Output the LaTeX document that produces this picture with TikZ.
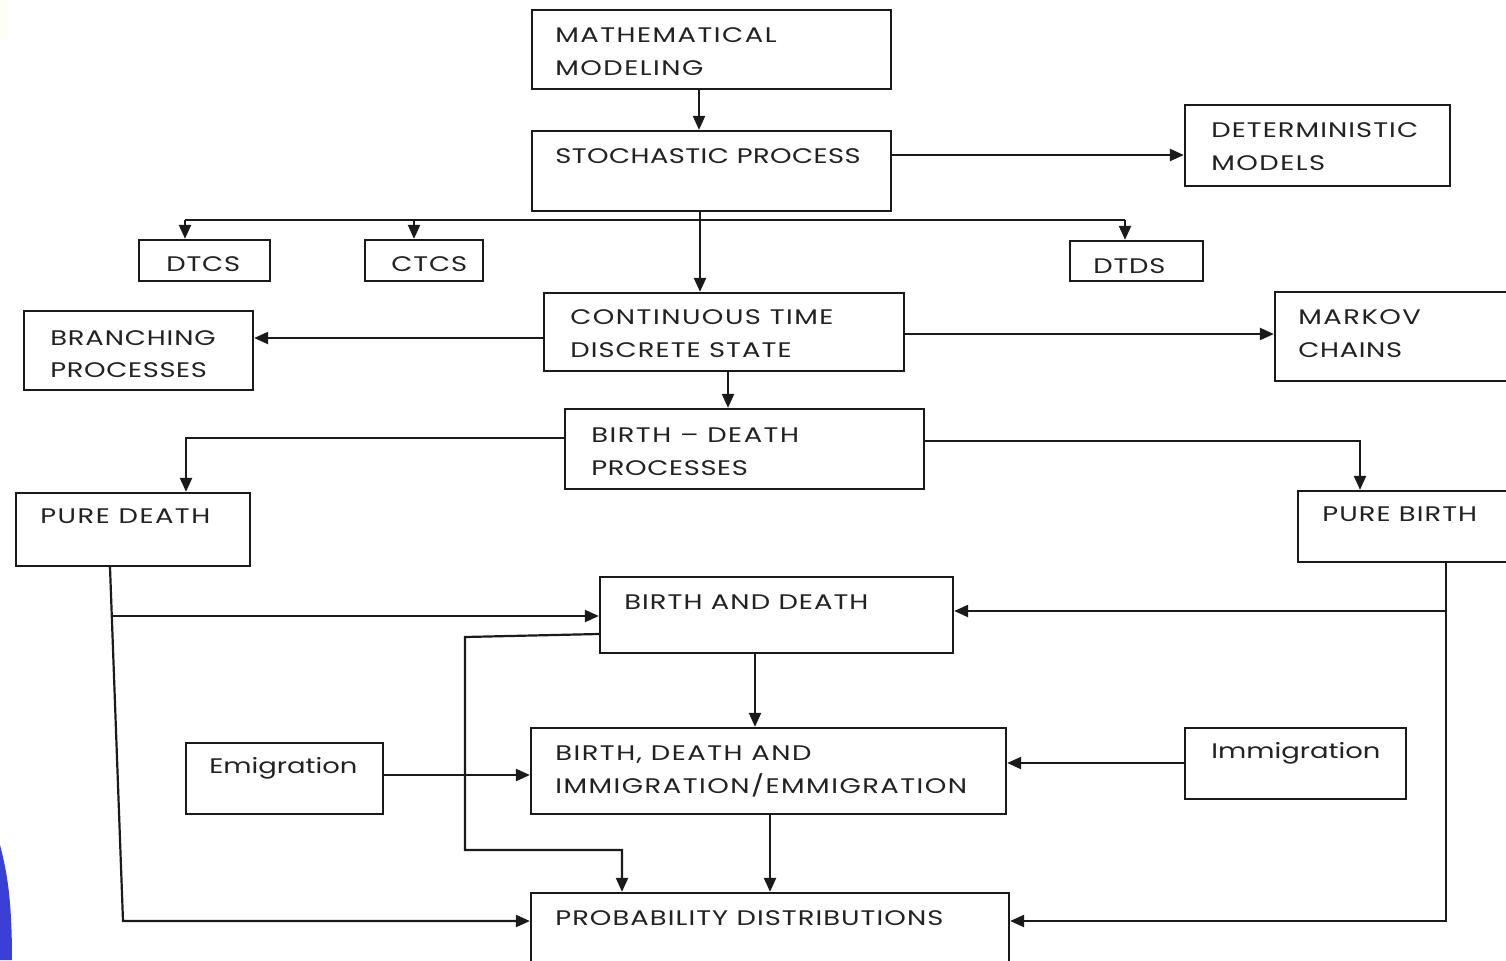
\documentclass[tikz,border=0pt]{standalone}
\usepackage{fontspec}
\setmainfont{Poppins}[FakeStretch=1.3, LetterSpace=7]
\usetikzlibrary{arrows.meta,fit}
\definecolor{linec}{HTML}{1A1A1A}
\definecolor{textc}{HTML}{222222}
\definecolor{blueedge}{HTML}{3A3FD6}
\newcommand\sx[1]{#1}
\newcommand\tight[2]{{\addfontfeatures{LetterSpace=#1}#2}}
\begin{document}
\begin{tikzpicture}[x=0.02cm,y=-0.02cm,
  box/.style={draw=linec, line width=1.3pt, inner sep=0pt, fill=none},
  txt/.style={anchor=base west, inner sep=0pt, text=textc, font=\fontsize{12}{14}\selectfont},
  conn/.style={draw=linec, line width=1.25pt},
  arr/.style={conn, -{Triangle[length=0.28cm,width=0.24cm]}}]
\useasboundingbox (0,0) rectangle (1506,960);
\clip (0,0) rectangle (1506,960);
\fill[white] (0,0) rectangle (1506,960);
% background decorations at left edge
\fill[yellow!4] (0,0) rectangle (8,40);
\fill[blueedge] (0,845) .. controls (8,875) and (12,905) .. (12,960) -- (0,960) -- cycle;

% boxes
\node[box, fit={(532,10)(891,89)}] (math) {};
\node[box, fit={(532,131)(891,211)}] (stoch) {};
\node[box, fit={(1185,105)(1450,186)}] (det) {};
\node[box, fit={(139,240)(270,281)}] (dtcs) {};
\node[box, fit={(365,240)(483,281)}] (ctcs) {};
\node[box, fit={(1070,241)(1203,281)}] (dtds) {};
\node[box, fit={(544,293)(904,371)}] (ctds) {};
\node[box, fit={(24,311)(253,390)}] (branch) {};
\node[box, fit={(1275,292)(1530,381)}] (markov) {};
\node[box, fit={(565,409)(924,489)}] (bd) {};
\node[box, fit={(16,493)(250,566)}] (pd) {};
\node[box, fit={(1298,491)(1530,562)}] (pb) {};
\node[box, fit={(600,577)(953,653)}] (bad) {};
\node[box, fit={(186,743)(383,814)}] (emig) {};
\node[box, fit={(531,728)(1006,814)}] (bdie) {};
\node[box, fit={(1185,728)(1406,799)}] (immig) {};
\node[box, fit={(531,893)(1009,990)}] (prob) {};

% texts
\node[txt] (t1a) at (555,42.5) {MATHEMATICAL};
\node[txt] (t1b) at (555,75.5) {MODELING};
\node[txt] (t2) at (555,163.5) {\tight{2}{STOCHASTIC PROCESS}};
\node[txt] (t3a) at (1211,137.5) {\tight{5}{DETERMINISTIC}};
\node[txt] (t3b) at (1211,170.5) {MODELS};
\node[txt] (t4) at (166,271.5) {\tight{4}{DTCS}};
\node[txt] (t5) at (391,271.5) {\tight{4}{CTCS}};
\node[txt] (t6) at (1093,273.5) {\tight{4}{DTDS}};
\node[txt] (t7a) at (570,324.5) {CONTINUOUS TIME};
\node[txt] (t7b) at (570,357.5) {\tight{5}{DISCRETE STATE}};
\node[txt] (t8a) at (50,345.5) {\tight{4}{BRANCHING}};
\node[txt] (t8b) at (50,377.5) {\tight{3}{PROCESSES}};
\node[txt] (t9a) at (1298,324.5) {MARKOV};
\node[txt] (t9b) at (1298,357.5) {\tight{3}{CHAINS}};
\node[txt] (t10a) at (591,442.5) {BIRTH -- DEATH};
\node[txt] (t10b) at (591,475.5) {\tight{3}{PROCESSES}};
\node[txt] (t11) at (40,523.5) {PURE DEATH};
\node[txt] (t12) at (1322,521.5) {\tight{5}{PURE BIRTH}};
\node[txt] (t13) at (624,609.5) {\tight{5}{BIRTH AND DEATH}};
\node[txt] (t14) at (209,773) {\tight{0}{Emigration}};
\node[txt] (t15a) at (555,760.5) {BIRTH, DEATH AND};
\node[txt] (t15b) at (555,793.5) {IMMIGRATION/EMMIGRATION};
\node[txt] (t16) at (1211,758) {\tight{0}{Immigration}};
\node[txt] (t17) at (555,925.5) {\tight{5}{PROBABILITY DISTRIBUTIONS}};

% helper coordinates
\coordinate (xa) at (699,0);
\coordinate (xb) at (700,0);
\coordinate (ya) at (0,155);
\coordinate (h1) at (185,220);
\coordinate (h2) at (414,220);
\coordinate (h3) at (1125,220);
\coordinate (yb) at (0,338);
\coordinate (yc) at (0,334);
\coordinate (xc) at (728,0);
\coordinate (k1) at (186,438);
\coordinate (k2) at (1360,441);
\coordinate (p1) at (110,0);
\coordinate (p2) at (123,921);
\coordinate (p3) at (112,616);
\coordinate (q1) at (1446,0);
\coordinate (q2) at (1446,921);
\coordinate (q3) at (1446,611);
\coordinate (xd) at (755,0);
\coordinate (r0) at (0,634);
\coordinate (r1) at (465,637);
\coordinate (r2) at (465,850);
\coordinate (r3) at (622,850);
\coordinate (ye) at (0,775);
\coordinate (yf) at (0,763);
\coordinate (xe) at (770,0);

% connectors
\draw[arr] (math.south -| xa) -- (stoch.north -| xa);
\draw[arr] (stoch.east |- ya) -- (det.west |- ya);
\draw[arr] (stoch.south -| xb) -- (ctds.north -| xb);
\draw[conn] (h1) -- (h3);
\draw[arr] (h1) -- (dtcs.north -| h1);
\draw[arr] (h2) -- (ctcs.north -| h2);
\draw[arr] (h3) -- (dtds.north -| h3);
\draw[arr] (ctds.west |- yb) -- (branch.east |- yb);
\draw[arr] (ctds.east |- yc) -- (markov.west |- yc);
\draw[arr] (ctds.south -| xc) -- (bd.north -| xc);
\draw[arr] (bd.west |- k1) -| (pd.north -| k1);
\draw[arr] (bd.east |- k2) -| (pb.north -| k2);
\draw[arr] (pd.south -| p1) -- (p2) -- (prob.west |- p2);
\draw[arr] (p3) -- (bad.west |- p3);
\draw[arr] (pb.south -| q1) -- (q2) -- (prob.east |- q2);
\draw[arr] (q3) -- (bad.east |- q3);
\draw[arr] (bad.south -| xd) -- (bdie.north -| xd);
\draw[arr] (bad.west |- r0) -- (r1) -- (r2) -- (r3) -- (prob.north -| r3);
\draw[arr] (emig.east |- ye) -- (bdie.west |- ye);
\draw[arr] (immig.west |- yf) -- (bdie.east |- yf);
\draw[arr] (bdie.south -| xe) -- (prob.north -| xe);
\end{tikzpicture}
\end{document}
